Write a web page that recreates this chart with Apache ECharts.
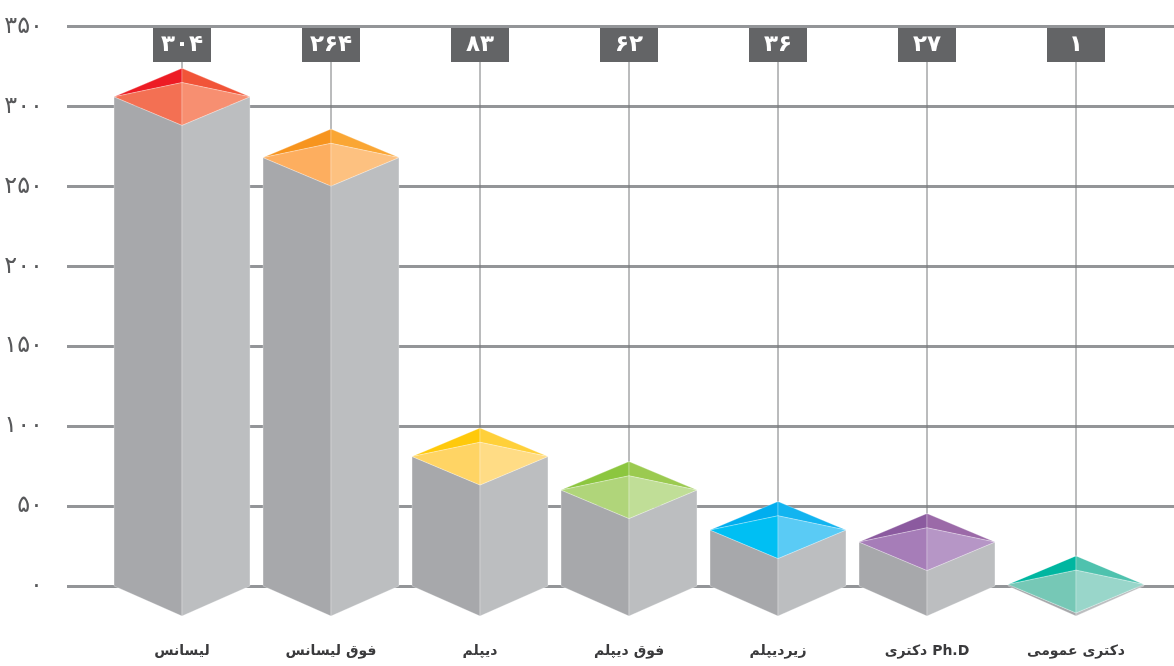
<!DOCTYPE html>
<html>
<head>
<meta charset="utf-8">
<style>
  html, body { margin: 0; padding: 0; background: #fff; }
  #chart { width: 1174px; height: 666px; }
</style>
<script src="https://cdn.jsdelivr.net/npm/echarts@6/dist/echarts.min.js"></script>
</head>
<body>
<div id="chart"></div>
<script>
const categories = ['لیسانس', 'فوق لیسانس', 'دیپلم', 'فوق دیپلم', 'زیردیپلم', 'دکتری Ph.D', 'دکتری عمومی']
// printed value above each bar
const valueLabels = ['۳۰۴', '۲۶۴', '۸۳', '۶۲', '۳۶', '۲۷', '۱']
// bar heights as drawn in the picture (they sit slightly off the printed values)
const barHeights = [306, 268, 81, 60, 35, 27.5, 1]
const tickLabels = ['۰', '۵۰', '۱۰۰', '۱۵۰', '۲۰۰', '۲۵۰', '۳۰۰', '۳۵۰']

// back left, back right, front left, front right of the top face
const topColors = [
  ['#ed1c24', '#f15438', '#f37053', '#f78f71'],
  ['#f7941e', '#faa634', '#fdae5f', '#fdc180'],
  ['#ffc90b', '#ffd03a', '#ffd464', '#ffdc85'],
  ['#8cc63f', '#9bca50', '#b0d57a', '#c0de97'],
  ['#00aeef', '#12b4f0', '#00bff3', '#5acbf5'],
  ['#8b5a9f', '#9b6aa8', '#a67db8', '#b696c6'],
  ['#00b6a0', '#4fc2ae', '#76c8b6', '#99d6ca'],
]

const myChart = echarts.init(document.getElementById('chart'))

const poly = (points, fill) => ({
  type: 'polygon',
  shape: { points },
  style: { fill, stroke: 'rgba(255,255,255,0.45)', lineWidth: 0.6 },
})

function renderBar(params, api) {
  const i = api.value(0)
  const [cx, y] = api.coord([i, api.value(1)])
  const base = api.coord([i, 0])[1]
  const top = api.coord([i, 350])[1]
  const hw = api.size([1, 0])[0] * 0.456
  const dyTop = 28.5
  const dyBase = 30
  const c = topColors[i]
  const boxW = 58
  const boxH = 34
  const boxY = top + 1.5
  return {
    type: 'group',
    children: [
      // leader line, drawn first so the top face covers its foot
      {
        type: 'line',
        shape: { x1: cx, y1: boxY + boxH, x2: cx, y2: y - dyTop },
        style: { stroke: '#77787b', lineWidth: 1 },
      },
      poly([[cx - hw, y], [cx, y + dyTop], [cx, base + dyBase], [cx - hw, base]], '#a7a8ab'),
      poly([[cx + hw, y], [cx, y + dyTop], [cx, base + dyBase], [cx + hw, base]], '#bcbec0'),
      poly([[cx - hw, y], [cx, y - dyTop], [cx, y - dyTop / 2]], c[0]),
      poly([[cx + hw, y], [cx, y - dyTop], [cx, y - dyTop / 2]], c[1]),
      poly([[cx - hw, y], [cx, y - dyTop / 2], [cx, y + dyTop]], c[2]),
      poly([[cx + hw, y], [cx, y - dyTop / 2], [cx, y + dyTop]], c[3]),
      {
        type: 'rect',
        shape: { x: cx - boxW / 2, y: boxY, width: boxW, height: boxH },
        style: { fill: '#636466' },
      },
      {
        type: 'text',
        x: cx,
        y: boxY + boxH / 2,
        style: {
          text: valueLabels[i],
          fill: '#fff',
          font: 'bold 23px "DejaVu Sans"',
          align: 'center',
          verticalAlign: 'middle',
        },
      },
    ],
  }
}

const option = {
  animation: false,
  backgroundColor: '#fff',
  grid: [
    // wide grid: gridlines and tick labels
    { left: 67, right: 0, top: 26.5, height: 559.5 },
    // narrow grid: the seven bars
    { left: 107.5, width: 1043, top: 26.5, height: 559.5 },
  ],
  xAxis: [
    { gridIndex: 0, type: 'value', min: 0, max: 1, show: false },
    {
      gridIndex: 1,
      type: 'category',
      data: categories,
      axisLine: { show: false },
      axisTick: { show: false },
      axisLabel: {
        margin: 58,
        interval: 0,
        color: '#3a3a3c',
        fontSize: 14,
        fontWeight: 'bold',
        fontFamily: '"DejaVu Sans"',
      },
    },
  ],
  yAxis: [
    {
      gridIndex: 0,
      type: 'value',
      min: 0,
      max: 350,
      interval: 50,
      axisLine: { show: false },
      axisTick: { show: false },
      axisLabel: {
        margin: 24,
        color: '#58595b',
        fontSize: 24,
        fontFamily: '"DejaVu Sans"',
        formatter: (v) => tickLabels[v / 50],
      },
      splitLine: { show: true, lineStyle: { color: '#939598', width: 3 } },
    },
    { gridIndex: 1, type: 'value', min: 0, max: 350, interval: 50, show: false },
  ],
  series: [
    {
      type: 'custom',
      xAxisIndex: 1,
      yAxisIndex: 1,
      clip: false,
      encode: { x: 0, y: 1 },
      data: barHeights.map((v, i) => [i, v]),
      renderItem: renderBar,
    },
  ],
}

option && myChart.setOption(option)
</script>
</body>
</html>
